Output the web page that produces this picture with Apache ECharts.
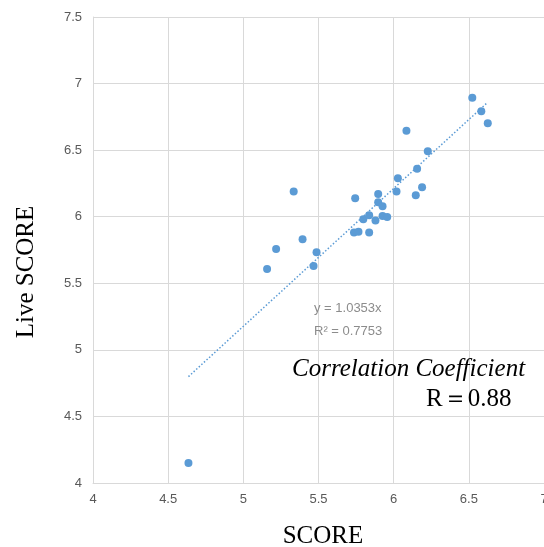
<!DOCTYPE html>
<html>
<head>
<meta charset="utf-8">
<script src="https://cdn.jsdelivr.net/npm/echarts@6/dist/echarts.min.js"></script>
<style>
html,body{margin:0;padding:0;background:#fff;}
#chart{width:544px;height:547px;}
</style>
</head>
<body>
<div id="chart"></div>
<script>
// ---- data ----
const scoreX = [4.635, 5.158, 5.218, 5.335, 5.394, 5.467, 5.487, 5.744, 5.736, 5.766,
                5.798, 5.837, 5.837, 5.879, 5.897, 5.897, 5.926, 5.926, 5.957, 6.019,
                6.028, 6.085, 6.147, 6.156, 6.189, 6.227, 6.523, 6.583, 6.626];
const liveY  = [4.150, 5.608, 5.758, 6.189, 5.831, 5.630, 5.733, 6.139, 5.881, 5.888,
                5.981, 6.011, 5.881, 5.971, 6.171, 6.109, 6.079, 6.006, 5.998, 6.189,
                6.289, 6.645, 6.162, 6.361, 6.222, 6.492, 6.893, 6.793, 6.702];
const trendX = [4.635, 6.626];
const trendY = [4.799, 6.860];
const xTicks = [4, 4.5, 5, 5.5, 6, 6.5, 7];
const yTicks = [4, 4.5, 5, 5.5, 6, 6.5, 7, 7.5];
const xName = 'SCORE';
const yName = 'Live SCORE';
const eqText = 'y = 1.0353x';
const r2Text = 'R² = 0.7753';
const corrText = 'Correlation Coefficient';
const rText = 'R＝0.88';

const points = scoreX.map((x, i) => [x, liveY[i]]);
const trend = trendX.map((x, i) => [x, trendY[i]]);

const chart = echarts.init(document.getElementById('chart'), null, {renderer: 'canvas'});
const gridColor = '#d9d9d9';
const labelColor = '#595959';
chart.setOption({
  animation: false,
  backgroundColor: '#ffffff',
  grid: {left: 93, right: 0, top: 17, bottom: 64, containLabel: false, outerBoundsMode: 'none'},
  xAxis: {
    type: 'value', min: xTicks[0], max: xTicks[xTicks.length - 1], interval: 0.5,
    axisLine: {show: true, lineStyle: {color: gridColor, width: 1}},
    axisTick: {show: false},
    splitLine: {show: true, lineStyle: {color: gridColor, width: 1}},
    axisLabel: {color: labelColor, fontSize: 13, fontFamily: 'Liberation Sans', margin: 10,
                showMaxLabel: true, showMinLabel: true, hideOverlap: false,
                formatter: v => String(v)}
  },
  yAxis: {
    type: 'value', min: yTicks[0], max: yTicks[yTicks.length - 1], interval: 0.5,
    axisLine: {show: true, lineStyle: {color: gridColor, width: 1}},
    axisTick: {show: false},
    splitLine: {show: true, lineStyle: {color: gridColor, width: 1}},
    axisLabel: {color: labelColor, fontSize: 13, fontFamily: 'Liberation Sans', margin: 11,
                formatter: v => String(v)}
  },
  series: [
    {
      type: 'line', data: trend, symbol: 'none', silent: true, z: 1,
      lineStyle: {color: '#5B9BD5', width: 1.5, type: [1.5, 2]}
    },
    {
      type: 'scatter', data: points, symbolSize: 8, z: 2,
      itemStyle: {color: '#5B9BD5', opacity: 1}
    }
  ],
  graphic: [
    {type: 'text', z: 10, position: [323, 536],
      style: {text: xName, fill: '#000', font: '25px "Liberation Serif"',
      textAlign: 'center', textVerticalAlign: 'middle'}},
    {type: 'text', z: 10, rotation: Math.PI / 2, position: [26, 272],
      style: {text: yName, fill: '#000', font: '25px "Liberation Serif"',
      textAlign: 'center', textVerticalAlign: 'middle'}},
    {type: 'text', z: 10, position: [314, 308],
      style: {text: eqText, fill: '#8c8c8c', font: '13px "Liberation Sans"',
      textAlign: 'left', textVerticalAlign: 'middle'}},
    {type: 'text', z: 10, position: [314, 331],
      style: {text: r2Text, fill: '#8c8c8c', font: '13px "Liberation Sans"',
      textAlign: 'left', textVerticalAlign: 'middle'}},
    {type: 'text', z: 10, position: [292, 369],
      style: {text: corrText, fill: '#000', font: 'italic 25px "Liberation Serif"',
      textAlign: 'left', textVerticalAlign: 'middle'}},
    {type: 'text', z: 10, position: [426, 399],
      style: {text: rText, fill: '#000', font: '25px "Liberation Serif"',
      textAlign: 'left', textVerticalAlign: 'middle'}}
  ]
});
</script>
</body>
</html>
